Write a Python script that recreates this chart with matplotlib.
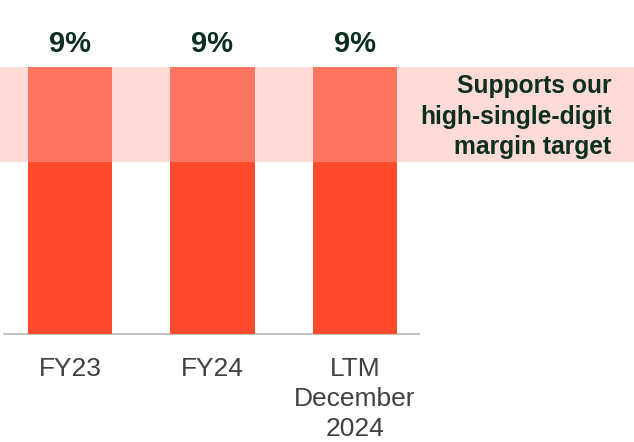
import matplotlib
matplotlib.use("Agg")
import matplotlib.pyplot as plt

categories = ["FY23", "FY24", "LTM\nDecember\n2024"]
margins = [9, 9, 9]
value_labels = ["9%", "9%", "9%"]
target_low, target_high = 5.8, 9.0
target_text = "Supports our\nhigh-single-digit\nmargin target"

plt.rcParams['font.family'] = ['Liberation Sans', 'DejaVu Sans']

fig = plt.figure(figsize=(6.34, 4.42), dpi=100)
ax = fig.add_axes([0, 0, 1, 1])
ax.set_xlim(-0.491, 3.958)
ax.set_ylim(-3.64, 11.26)
ax.axis('off')

x = list(range(len(categories)))
ax.bar(x, margins, width=0.59, color='#FF4B2B', zorder=2)
ax.axhspan(target_low, target_high, color=(1.0, 175/255, 166/255), alpha=0.44, lw=0, zorder=3)
ax.plot([-0.463, 2.449], [0, 0], color='#B8B8B8', lw=1.2, zorder=1)

for xi, m, lab in zip(x, margins, value_labels):
    ax.text(xi, m + 0.76, lab, ha='center', va='center', fontsize=21,
            fontweight='bold', color='#0B2E1E')

for xi, c in zip(x, categories):
    ax.text(xi, -0.78, c, ha='center', va='top', fontsize=19, color='#404040',
            linespacing=1.3)

ax.text(3.80, 7.33, target_text, ha='right', va='center', fontsize=17.7,
        fontweight='bold', color='#0B2E1E', linespacing=1.35, zorder=4)

fig.savefig('out.png', dpi=100)
